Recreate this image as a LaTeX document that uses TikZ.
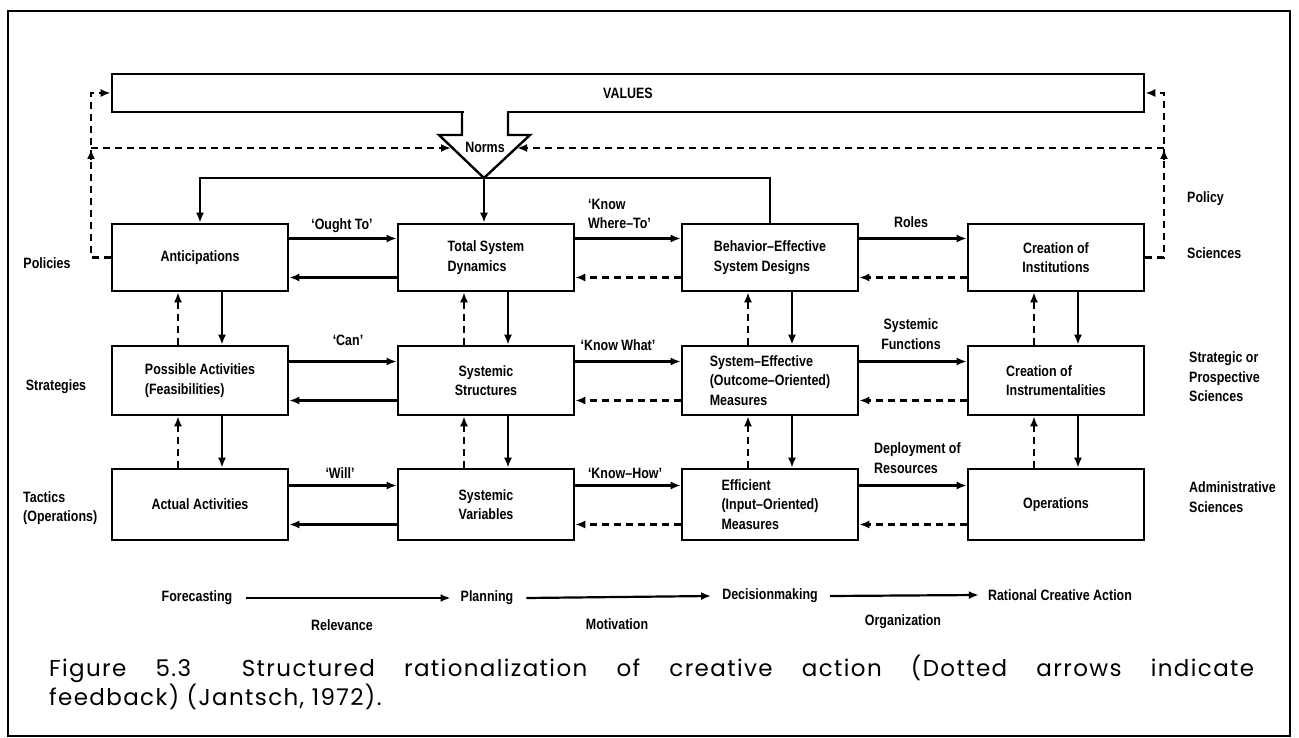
\documentclass[tikz,border=0pt]{standalone}
\usepackage{fontspec}
\usetikzlibrary{arrows.meta}
\newfontfamily\lbl[FakeStretch=0.83]{Liberation Sans}
\newfontfamily\capfont[LetterSpace=6]{Poppins}
\begin{document}
\begin{tikzpicture}[x=1pt,y=-1pt,
  lab/.style={font=\lbl\bfseries\fontsize{15}{19.5}\selectfont},
  box/.style={draw, lab, line width=2.6pt, minimum width=176pt, inner sep=3pt, align=center},
  txt/.style={lab, inner sep=0pt, align=center},
  fwd/.style={line width=2.2pt, -{Latex[length=10pt,width=8pt]}},
  fb/.style={line width=2.2pt, dash pattern=on 7pt off 5pt, -{Latex[length=10pt,width=8pt]}},
  plain/.style={line width=2.2pt},
  captext/.style={anchor=base west, inner sep=0pt, font=\capfont\fontsize{23}{28}\selectfont}]
\useasboundingbox (0,0) rectangle (1299,738);
% outer frame
\draw[line width=2.6pt] (8,11) rectangle (1290,736);

% values bar and the norms arrow
\node[draw, lab, line width=2.6pt, minimum width=1032pt, minimum height=38pt] (values) at (628,93) {VALUES};
\fill[white] (463.5,109) rectangle (506.5,136);
\draw[line width=2.4pt, line join=miter] (462,112) -- (462,135) -- (439,135) -- (484,178) -- (530,135) -- (508,135) -- (508,112);
\node[txt] (norms) at (485,147) {Norms};
\coordinate (nt) at (484,178);
\coordinate (nwl) at (451,148);
\coordinate (nwr) at (517,148);

% row 1
\node[box, minimum height=67pt] (ant) at (200,257.5) {Anticipations};
\node[box, minimum height=67pt, align=left] (tsd) at (486,257.5) {Total System\\Dynamics};
\node[box, minimum height=67pt, align=left] (beh) at (770,257.5) {Behavior–Effective\\System Designs};
\node[box, minimum height=67pt] (inst) at (1056,257.5) {Creation of\\Institutions};
% row 2
\node[box, minimum height=69pt, align=left] (pos) at (200,380.5) {Possible Activities\\(Feasibilities)};
\node[box, minimum height=69pt] (sst) at (486,380.5) {Systemic\\Structures};
\node[box, minimum height=69pt, align=left] (sef) at (770,380.5) {System–Effective\\(Outcome–Oriented)\\Measures};
\node[box, minimum height=69pt, align=left] (ins) at (1056,380.5) {Creation of\\Instrumentalities};
% row 3
\node[box, minimum height=71pt] (act) at (200,504.5) {Actual Activities};
\node[box, minimum height=71pt] (svar) at (486,504.5) {Systemic\\Variables};
\node[box, minimum height=71pt, align=left] (eff) at (770,504.5) {Efficient\\(Input–Oriented)\\Measures};
\node[box, minimum height=71pt] (ops) at (1056,504.5) {Operations};

% norms feeding the first row
\draw[fwd] (nt) -| (ant.north);
\draw[fwd] (nt) -- (nt |- tsd.north);
\draw[plain] (nt) -| (beh.north);

% forward (solid) and feedback (dashed) links along each row
\foreach \a/\b in {ant/tsd, tsd/beh, beh/inst, pos/sst, sst/sef, sef/ins, act/svar, svar/eff, eff/ops}{
  \draw[fwd] ([yshift=19pt]\a.east) -- ([yshift=19pt]\b.west);
}
\foreach \a/\b in {tsd/ant, sst/pos, svar/act}{
  \draw[fwd] ([yshift=-20pt]\a.west) -- ([yshift=-20pt]\b.east);
}
\foreach \a/\b in {beh/tsd, inst/beh, sef/sst, ins/sef, eff/svar, ops/eff}{
  \draw[fb] ([yshift=-20pt]\a.west) -- ([yshift=-20pt]\b.east);
}
% links between the rows
\foreach \u/\l in {ant/pos, pos/act, tsd/sst, sst/svar, beh/sef, sef/eff, inst/ins, ins/ops}{
  \draw[fb] ([xshift=-22pt]\l.north) -- ([xshift=-22pt]\u.south);
  \draw[fwd] ([xshift=22pt]\u.south) -- ([xshift=22pt]\l.north);
}

% policy feedback loops back to values and norms
\coordinate (jl) at (91,148);
\coordinate (jr) at (1164,148);
\draw[fb] (ant.west) -| (jl) |- (values.west);
\draw[fb] (inst.east) -| (jr) |- (values.east);
\draw[fb] (jl) -- (nwl);
\draw[fb] (jr) -- (nwr);
\draw[line width=2.2pt, -{Latex[length=10pt,width=8pt]}] ([yshift=-12pt]jl) -- ([yshift=-1pt]jl);
\draw[line width=2.2pt, -{Latex[length=10pt,width=8pt]}] ([yshift=-12pt]jr) -- ([yshift=-1pt]jr);

% link labels
\node[txt] (lought) at (342,226) {‘Ought To’};
\node[txt, align=left, anchor=west] (lwhere) at (588,214) {‘Know\\Where–To’};
\node[txt] (lroles) at (911,222) {Roles};
\node[txt] (lcan) at (348,340) {‘Can’};
\node[txt] (lwhat) at (618,345) {‘Know What’};
\node[txt] (lfun) at (911,334) {Systemic\\Functions};
\node[txt] (lwill) at (340,473) {‘Will’};
\node[txt] (lhow) at (625,473) {‘Know–How’};
\node[txt, align=left, anchor=west] (ldep) at (874,458) {Deployment of\\Resources};

% side labels
\node[txt] (lpol) at (47,263) {Policies};
\node[txt] (lstr) at (56,387) {Strategies};
\node[txt, align=left, anchor=west] (ltac) at (23,508) {Tactics\\(Operations)};
\node[txt, anchor=west] (rpol) at (1187,199) {Policy};
\node[txt, anchor=west] (rsci) at (1187,253) {Sciences};
\node[txt, align=left, anchor=west] (rstr) at (1189,377) {Strategic or\\Prospective\\Sciences};
\node[txt, align=left, anchor=west] (radm) at (1189,497) {Administrative\\Sciences};

% process sequence
\node[txt] (fore) at (197,598) {Forecasting};
\node[txt] (plan) at (487,598) {Planning};
\node[txt] (dec) at (770,596) {Decisionmaking};
\node[txt] (rca) at (1060,595) {Rational Creative Action};
\draw[fwd] ([xshift=14pt]fore.east) -- ([xshift=-10pt]plan.west);
\draw[fwd] ([xshift=13pt]plan.east) -- ([xshift=-11pt]dec.west);
\draw[fwd] ([xshift=12pt]dec.east) -- ([xshift=-9pt]rca.west);
\node[txt] (lrel) at (342,625) {Relevance};
\node[txt] (lmot) at (617,624) {Motivation};
\node[txt] (lorg) at (903,622) {Organization};

% caption
\node[captext] (cap1) at (49,676)
  {\makebox[1205pt][s]{Figure 5.3\kern 2.2em Structured rationalization of creative action (Dotted arrows indicate}};
\node[captext] (cap2) at (49,705) {feedback) (Jantsch, 1972).};
\end{tikzpicture}
\end{document}
